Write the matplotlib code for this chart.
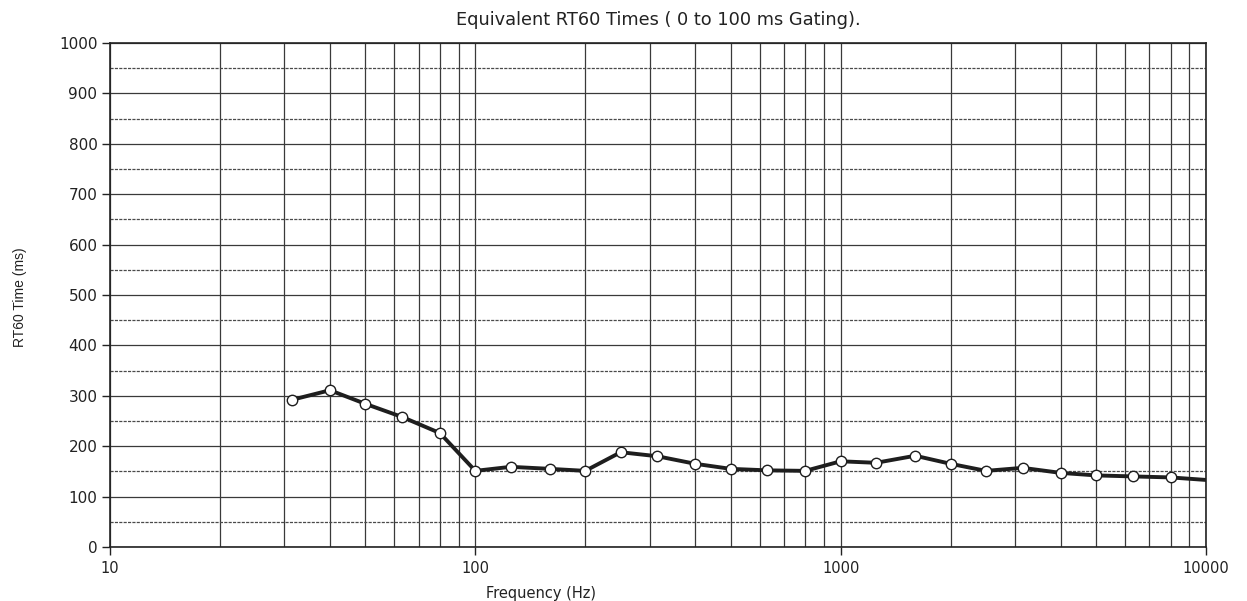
import numpy as np
import matplotlib
matplotlib.use("Agg")
from matplotlib import pyplot as plt
from matplotlib.ticker import FixedLocator, NullFormatter

# 1/3 octave bands and RT60 values (ms)
freqs = [31.5, 40, 50, 63, 80, 100, 125, 160, 200, 250, 315, 400, 500, 630,
         800, 1000, 1250, 1600, 2000, 2500, 3150, 4000, 5000, 6300, 8000, 10000]
rt60 = [292, 311, 284, 258, 226, 151, 159, 155, 151, 188, 180, 165, 155, 152,
        151, 170, 167, 181, 165, 151, 157, 147, 142, 140, 138, 133]

x_ticks = [10, 100, 1000, 10000]
x_ticklabels = ["10", "100", "1000", "10000"]
y_ticks = list(range(0, 1001, 100))

fig = plt.figure(figsize=(12.47, 6.01), dpi=100)
ax = fig.add_axes([0.0882, 0.0899, 0.8789, 0.8386])

ax.set_xscale("log")
ax.set_xlim(10, 10000)
ax.set_ylim(0, 1000)

# grid: decades + 2..9 subdivisions, y every 100 (solid) and 50 (dashed)
minor_x = [m * d for d in (10, 100, 1000) for m in range(2, 10)]
ax.xaxis.set_major_locator(FixedLocator(x_ticks))
ax.xaxis.set_minor_locator(FixedLocator(minor_x))
ax.xaxis.set_minor_formatter(NullFormatter())
ax.set_xticklabels(x_ticklabels)
ax.set_yticks(y_ticks)
ax.set_yticks(list(range(50, 1000, 100)), minor=True)

ax.grid(which="major", axis="both", color="#3a3a3a", lw=0.9)
ax.grid(which="minor", axis="x", color="#3a3a3a", lw=0.9)
ax.grid(which="minor", axis="y", color="#4a4a4a", lw=0.9, ls=(0, (2.5, 1)))
ax.set_axisbelow(True)

ax.plot(freqs, rt60, color="#1e1e1e", lw=2.8, marker="o", markersize=7.5,
        markerfacecolor="white", markeredgecolor="#1e1e1e", markeredgewidth=1.0,
        markevery=list(range(len(freqs) - 1)), clip_on=True, zorder=3)

for s in ax.spines.values():
    s.set_color("#222222")
    s.set_linewidth(1.2)

ax.tick_params(axis="both", which="major", direction="out", length=6,
               width=1, colors="#222222")
ax.tick_params(axis="y", which="major", labelsize=11, pad=3)
ax.tick_params(axis="x", which="major", labelsize=10.5, pad=4)
ax.tick_params(axis="x", which="minor", length=0)
ax.tick_params(axis="y", which="minor", length=0)

ax.set_title("Equivalent RT60 Times ( 0 to 100 ms Gating).", fontsize=12.8,
             color="#222222", pad=13)
fig.text(0.434, 0.0, "Frequency (Hz)", ha="center", va="bottom",
         fontsize=10.5, color="#222222")
fig.text(0.016, 0.505, "RT60 Time (ms)", rotation=90, ha="center", va="center",
         fontsize=10, color="#222222",
         family=["Liberation Sans Narrow", "Liberation Sans", "DejaVu Sans"])

fig.savefig("out.png", dpi=100, facecolor="white")
